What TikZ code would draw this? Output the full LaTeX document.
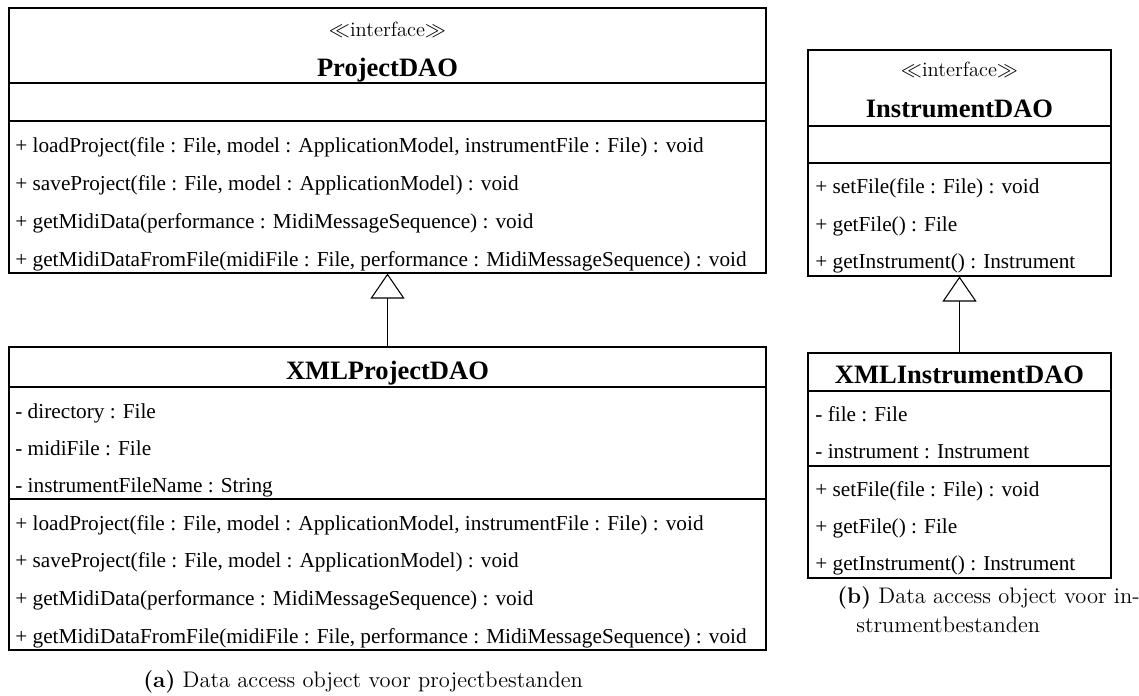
\documentclass[tikz,border=0pt]{standalone}
\usepackage{fontspec}
\newfontfamily\umlfont{Liberation Serif}
\usepackage{tikz}
\usetikzlibrary{arrows.meta,positioning}

\tikzset{
  umlbox/.style={draw, line width=0.6pt, inner sep=0pt},
  sepline/.style={line width=0.6pt},
  inherit/.style={line width=0.6pt, -{Triangle[open, length=0.5cm, width=0.68cm]}},
  stereo/.style={font=\fontsize{11.7}{14}\selectfont, anchor=base, inner sep=0pt},
  classname/.style={font=\umlfont\bfseries\fontsize{15.1}{18}\selectfont, anchor=base, inner sep=0pt},
  member/.style={font=\umlfont\fontsize{12.1}{14}\selectfont, anchor=base west, inner sep=0pt},
  subcap/.style={font=\fontsize{12.8}{17}\selectfont, anchor=base west, inner sep=0pt}
}

\begin{document}
\begin{tikzpicture}
  \useasboundingbox (0,0) rectangle (22.78,13.9);
  % ProjectDAO
  \node[umlbox, minimum width=15.14cm, minimum height=5.30cm] (pdao) at (7.75,11.09) {};
  \node[stereo] (pdaoster) at (7.75,13.16) {$\ll$interface$\gg$};
  \node[classname] (pdaoname) at (7.75,12.36) {ProjectDAO};
  \draw[sepline] (0.18,12.24) -- (15.32,12.24);
  \draw[sepline] (0.18,11.48) -- (15.32,11.48);
  \node[member] (pdaoma) at (0.30,10.86) {+ loadProject(file : File, model : ApplicationModel, instrumentFile : File) : void};
  \node[member] (pdaomb) at (0.30,10.10) {+ saveProject(file : File, model : ApplicationModel) : void};
  \node[member] (pdaomc) at (0.30,9.34) {+ getMidiData(performance : MidiMessageSequence) : void};
  \node[member] (pdaomd) at (0.30,8.58) {+ getMidiDataFromFile(midiFile : File, performance : MidiMessageSequence) : void};
  % XMLProjectDAO
  \node[umlbox, minimum width=15.14cm, minimum height=6.06cm] (xpdao) at (7.75,3.93) {};
  \node[classname] (xpdaoname) at (7.75,6.32) {XMLProjectDAO};
  \draw[sepline] (0.18,6.16) -- (15.32,6.16);
  \draw[sepline] (0.18,3.92) -- (15.32,3.92);
  \node[member] (xpdaoaa) at (0.30,5.54) {- directory : File};
  \node[member] (xpdaoab) at (0.30,4.80) {- midiFile : File};
  \node[member] (xpdaoac) at (0.30,4.06) {- instrumentFileName : String};
  \node[member] (xpdaoma) at (0.30,3.30) {+ loadProject(file : File, model : ApplicationModel, instrumentFile : File) : void};
  \node[member] (xpdaomb) at (0.30,2.56) {+ saveProject(file : File, model : ApplicationModel) : void};
  \node[member] (xpdaomc) at (0.30,1.80) {+ getMidiData(performance : MidiMessageSequence) : void};
  \node[member] (xpdaomd) at (0.30,1.04) {+ getMidiDataFromFile(midiFile : File, performance : MidiMessageSequence) : void};
  \draw[inherit] (xpdao) -- (pdao);
  % InstrumentDAO
  \node[umlbox, minimum width=6.06cm, minimum height=4.52cm] (idao) at (19.19,10.64) {};
  \node[stereo] (idaoster) at (19.19,12.36) {$\ll$interface$\gg$};
  \node[classname] (idaoname) at (19.19,11.56) {InstrumentDAO};
  \draw[sepline] (16.16,11.38) -- (22.22,11.38);
  \draw[sepline] (16.16,10.64) -- (22.22,10.64);
  \node[member] (idaoma) at (16.30,10.04) {+ setFile(file : File) : void};
  \node[member] (idaomb) at (16.30,9.28) {+ getFile() : File};
  \node[member] (idaomc) at (16.30,8.53) {+ getInstrument() : Instrument};
  % XMLInstrumentDAO
  \node[umlbox, minimum width=6.06cm, minimum height=4.50cm] (xidao) at (19.19,4.59) {};
  \node[classname] (xidaoname) at (19.19,6.24) {XMLInstrumentDAO};
  \draw[sepline] (16.16,6.08) -- (22.22,6.08);
  \draw[sepline] (16.16,4.58) -- (22.22,4.58);
  \node[member] (xidaoaa) at (16.30,5.48) {- file : File};
  \node[member] (xidaoab) at (16.30,4.73) {- instrument : Instrument};
  \node[member] (xidaoma) at (16.30,3.98) {+ setFile(file : File) : void};
  \node[member] (xidaomb) at (16.30,3.24) {+ getFile() : File};
  \node[member] (xidaomc) at (16.30,2.49) {+ getInstrument() : Instrument};
  \draw[inherit] (xidao) -- (idao);
  % Captions
  \node[subcap] (capa) at (2.86,0.16) {\textbf{(a)} Data access object voor projectbestanden};
  \node[subcap] (capba) at (16.74,1.84) {\textbf{(b)} Data access object voor in-};
  \node[subcap] (capbb) at (17.12,1.26) {strumentbestanden};
\end{tikzpicture}
\end{document}
